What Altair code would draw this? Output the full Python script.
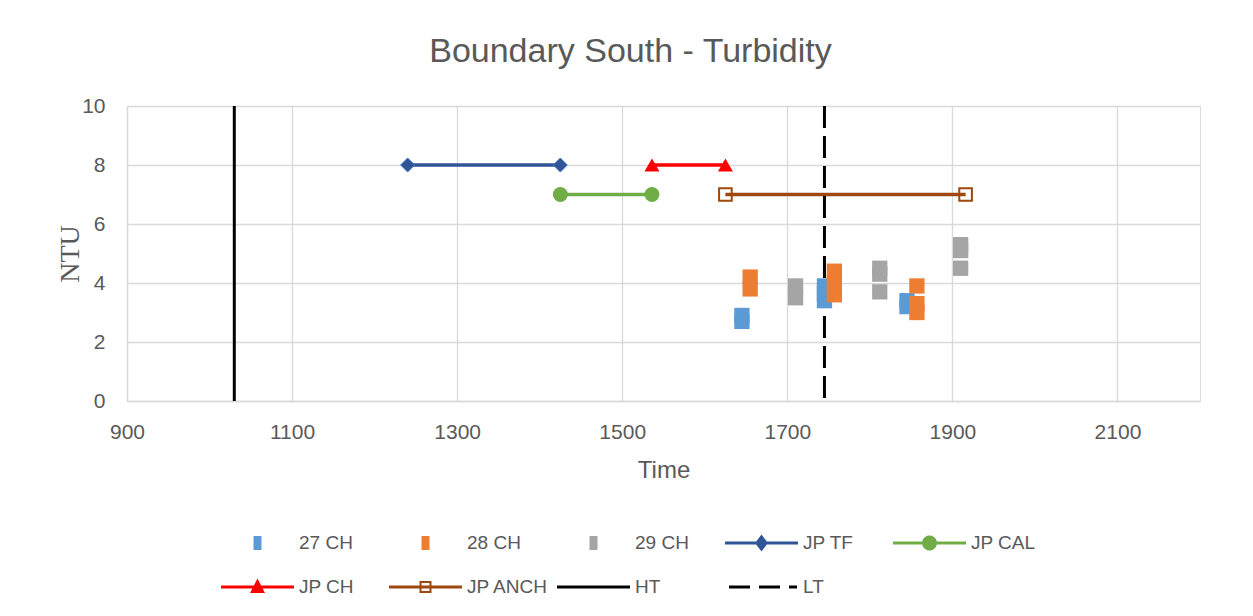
import math
import altair as alt
import pandas as pd

# ---------------- data ----------------
series_names = ["27 CH", "28 CH", "29 CH", "JP TF", "JP CAL", "JP CH", "JP ANCH", "HT", "LT"]
series_colors = ["#5B9BD5", "#ED7D31", "#A5A5A5", "#2F5597", "#70AD47", "#FF0000", "#9E480E", "#000000", "#000000"]

ch27_time = [1645, 1645, 1745, 1745, 1745, 1845, 1845]
ch27_ntu = [2.9, 2.7, 3.9, 3.65, 3.4, 3.4, 3.2]
ch28_time = [1655, 1655, 1757, 1757, 1757, 1857, 1857, 1857]
ch28_ntu = [4.2, 3.8, 4.4, 4.0, 3.6, 3.9, 3.3, 3.0]
ch29_time = [1710, 1710, 1812, 1812, 1812, 1910, 1910, 1910]
ch29_ntu = [3.9, 3.5, 4.5, 4.3, 3.7, 5.3, 5.1, 4.5]

jp_tf_time = [1240, 1425]
jp_tf_ntu = [8, 8]
jp_cal_time = [1425, 1536]
jp_cal_ntu = [7, 7]
jp_ch_time = [1536, 1625]
jp_ch_ntu = [8, 8]
jp_anch_time = [1625, 1916]
jp_anch_ntu = [7, 7]

ht_time = [1030]
lt_time = [1745]

x_ticks = [900, 1100, 1300, 1500, 1700, 1900, 2100]
y_ticks = [0, 2, 4, 6, 8, 10]

COL = dict(zip(series_names, series_colors))

# ---------------- tables ----------------
def table(name, t, v):
    return pd.DataFrame({"series": name, "time": t, "ntu": v})

ch27_df = table("27 CH", ch27_time, ch27_ntu)
ch28_df = table("28 CH", ch28_time, ch28_ntu)
ch29_df = table("29 CH", ch29_time, ch29_ntu)
tf_df = table("JP TF", jp_tf_time, jp_tf_ntu)
cal_df = table("JP CAL", jp_cal_time, jp_cal_ntu)
ch_df = table("JP CH", jp_ch_time, jp_ch_ntu)
anch_df = table("JP ANCH", jp_anch_time, jp_anch_ntu)
ht_df = pd.DataFrame({"series": "HT", "time": ht_time})
lt_df = pd.DataFrame({"series": "LT", "time": lt_time})
legend_df = pd.DataFrame({"series": series_names})

# ---------------- legend symbol paths (unit = 10 px) ----------------
def rect(x0, x1, y0, y1):
    return f"M{x0},{y0}L{x1},{y0}L{x1},{y1}L{x0},{y1}Z"

def poly_circle(cx, r, n=20):
    pts = [(cx + r * math.cos(2 * math.pi * k / n), r * math.sin(2 * math.pi * k / n)) for k in range(n)]
    return "M" + "L".join(f"{x:.3f},{y:.3f}" for x, y in pts) + "Z"

CX = 2.65
LINE = rect(-1.0, 6.3, -0.15, 0.15)
SQ_SMALL = rect(CX - 0.4, CX + 0.4, -0.7, 0.7)
DIAMOND = f"M{CX - 0.65},0L{CX},-0.85L{CX + 0.65},0L{CX},0.85Z"
CIRCLE = poly_circle(CX, 0.75)
TRIANGLE = f"M{CX},-0.85L{CX + 0.75},0.6L{CX - 0.75},0.6Z"
RING = (rect(CX - 0.6, CX + 0.6, -0.6, 0.6)
        + f"M{CX - 0.4},-0.4L{CX - 0.4},0.4L{CX + 0.4},0.4L{CX + 0.4},-0.4Z")
DASHES = rect(-0.6, 1.5, -0.15, 0.15) + rect(2.4, 4.5, -0.15, 0.15) + rect(5.4, 6.2, -0.15, 0.15)
legend_paths = [SQ_SMALL, SQ_SMALL, SQ_SMALL,
                LINE + DIAMOND, LINE + CIRCLE, LINE + TRIANGLE, LINE + RING, LINE, DASHES]

FONT = "Liberation Sans"
GREY = "#595959"
GRID = "#D9D9D9"

xscale = alt.Scale(domain=[900, 2200], nice=False, zero=False)
yscale = alt.Scale(domain=[0, 10], nice=False)

x_axis = alt.Axis(values=x_ticks, format="d", title="Time", titleFont=FONT, titleFontSize=24,
                  titleFontWeight="normal", titleColor=GREY, titleY=69, titleBaseline="middle",
                  labelFont=FONT, labelFontSize=21, labelColor=GREY, labelPadding=20,
                  labelFlush=False, labelOverlap=False, ticks=False,
                  grid=True, gridColor=GRID, gridWidth=1.3, domainColor=GRID, domainWidth=1.3)
y_axis = alt.Axis(values=y_ticks, format="d", title="NTU", titleFont="Liberation Serif", titleFontSize=28,
                  titleFontWeight="normal", titleColor=GREY, titleX=-57, titleY=147.5,
                  titleAlign="center", titleBaseline="middle",
                  labelFont=FONT, labelFontSize=21, labelColor=GREY, labelPadding=22,
                  labelFlush=False, labelOverlap=False, ticks=False,
                  grid=True, gridColor=GRID, gridWidth=1.3, domainColor=GRID, domainWidth=1.3)

X = alt.X("time:Q", scale=xscale, axis=x_axis)
Y = alt.Y("ntu:Q", scale=yscale, axis=y_axis)


def jp_layer(df, name, shape, size, filled=True, **kw):
    line = alt.Chart(df).mark_line(strokeWidth=3.5, color=COL[name]).encode(x=X, y=Y)
    if filled:
        pts = alt.Chart(df).mark_point(shape=shape, filled=True, size=size, opacity=1,
                                       color=COL[name], **kw).encode(x=X, y=Y)
    else:
        pts = alt.Chart(df).mark_point(shape=shape, filled=False, size=size, opacity=1,
                                       color=COL[name], strokeWidth=2).encode(x=X, y=Y)
    return [line, pts]


layers = []
layers += jp_layer(tf_df, "JP TF", "diamond", 196, stroke="#4472C4", strokeWidth=1)
layers += jp_layer(cal_df, "JP CAL", "circle", 225, strokeWidth=0)
layers += jp_layer(ch_df, "JP CH", "triangle-up", 225, strokeWidth=0)
layers += jp_layer(anch_df, "JP ANCH", "square", 160, filled=False)

layers.append(alt.Chart(ht_df).mark_rule(strokeWidth=3, color="#000000").encode(x=alt.X("time:Q", scale=xscale)))
layers.append(alt.Chart(lt_df).mark_rule(strokeWidth=3, color="#000000", strokeDash=[22, 8]).encode(
    x=alt.X("time:Q", scale=xscale)))

for df, name in [(ch27_df, "27 CH"), (ch28_df, "28 CH"), (ch29_df, "29 CH")]:
    layers.append(alt.Chart(df).mark_point(shape="square", filled=True, size=234, opacity=1,
                                           strokeWidth=0, color=COL[name]).encode(x=X, y=Y))

leg = alt.Legend(title=" ", titleOrient="left", titleFontSize=1, titlePadding=94,
                 orient="bottom", offset=51, direction="horizontal",
                 columns=5, symbolSize=400, symbolStrokeWidth=0,
                 labelFont=FONT, labelFontSize=19, labelColor=GREY, labelOffset=58,
                 columnPadding=8, rowPadding=24, gridAlign="all")
legend_layer = alt.Chart(legend_df).transform_filter("false").mark_point(filled=True, opacity=1).encode(
    color=alt.Color("series:N", scale=alt.Scale(domain=series_names, range=series_colors), legend=leg),
    shape=alt.Shape("series:N", scale=alt.Scale(domain=series_names, range=legend_paths), legend=leg),
)
layers.append(legend_layer)

chart = alt.layer(*layers).properties(
    width=1073, height=295,
    title=alt.Title("Boundary South - Turbidity", font=FONT, fontSize=34, fontWeight="normal",
                    color=GREY, anchor="middle", dx=-33, offset=26, frame="group"),
    autosize=alt.AutoSizeParams(type="none"),
    padding={"left": 119, "top": 98, "right": 45, "bottom": 200},
).configure_view(stroke=None).configure(background="white")

chart.save("out.html", embed_options={"renderer": "svg", "actions": False})
